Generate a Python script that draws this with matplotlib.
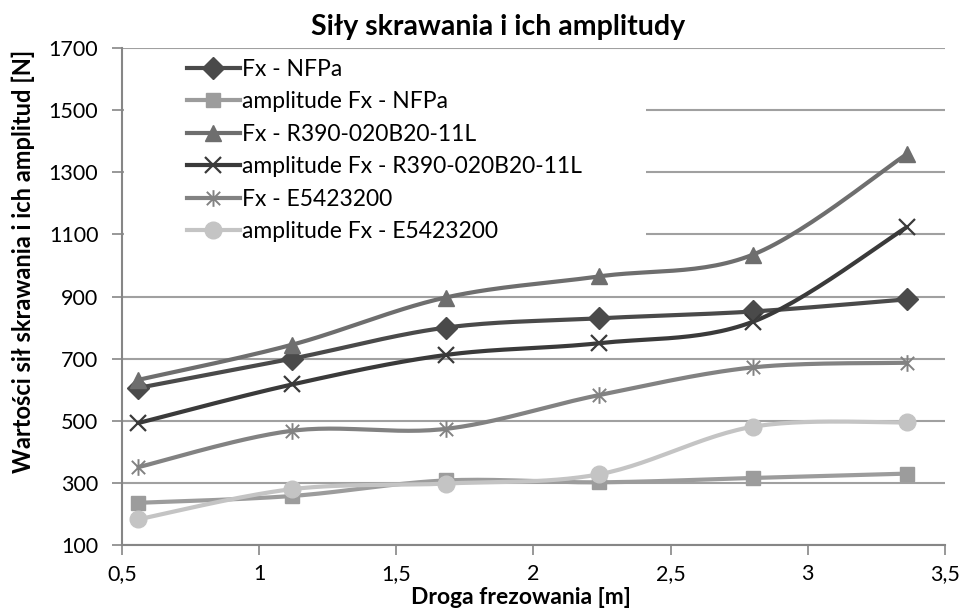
import matplotlib
matplotlib.use("Agg")
import matplotlib.pyplot as plt
import numpy as np
from matplotlib.path import Path
from matplotlib.patches import Rectangle

# Data
droga = [0.56, 1.12, 1.68, 2.24, 2.80, 3.36]
fx_nfpa = [606, 700, 800, 830, 852, 891]
amp_nfpa = [236, 258, 308, 302, 316, 330]
fx_r390 = [632, 745, 897, 965, 1035, 1358]
amp_r390 = [493, 617, 712, 750, 819, 1123]
fx_e542 = [351, 468, 474, 583, 672, 687]
amp_e542 = [183, 280, 298, 328, 481, 495]

labels = ['Fx - NFPa', 'amplitude Fx - NFPa', 'Fx - R390-020B20-11L',
          'amplitude Fx - R390-020B20-11L', 'Fx - E5423200', 'amplitude Fx - E5423200']
yticks = [100, 300, 500, 700, 900, 1100, 1300, 1500, 1700]
xticks = [0.5, 1, 1.5, 2, 2.5, 3, 3.5]
xticklabels = ['0,5', '1', '1,5', '2', '2,5', '3', '3,5']

# Excel style asterisk marker: vertical bar plus an X
star_path = Path([(0, -1), (0, 1), (-0.8, -0.8), (0.8, 0.8), (-0.8, 0.8), (0.8, -0.8)],
                 [Path.MOVETO, Path.LINETO, Path.MOVETO, Path.LINETO, Path.MOVETO, Path.LINETO])


def smooth(x, y, n=30):
    # Catmull-Rom curve through the points, like Excel's smoothed line
    x = np.asarray(x, float)
    y = np.asarray(y, float)
    px = np.concatenate([[x[0]], x, [x[-1]]])
    py = np.concatenate([[y[0]], y, [y[-1]]])
    xs, ys = [], []
    t = np.linspace(0, 1, n)
    for i in range(1, len(px) - 2):
        for p, out in ((px, xs), (py, ys)):
            p0, p1, p2, p3 = p[i - 1], p[i], p[i + 1], p[i + 2]
            c1 = p1 + (p2 - p0) / 6
            c2 = p2 - (p3 - p1) / 6
            out.extend((1 - t) ** 3 * p1 + 3 * (1 - t) ** 2 * t * c1 + 3 * (1 - t) * t ** 2 * c2 + t ** 3 * p2)
    return xs, ys


plt.rcParams['font.family'] = ['Lato', 'DejaVu Sans']

fig = plt.figure(figsize=(9.65, 6.09), dpi=100)
ax = fig.add_axes([0.1264, 0.105, 0.8528, 0.816])

series = [
    (fx_nfpa, '#4a4a4a', 'D', 11, 1),
    (amp_nfpa, '#9c9c9c', 's', 10, 1),
    (fx_r390, '#6e6e6e', '^', 12, 1),
    (amp_r390, '#3a3a3a', 'x', 12, 1.6),
    (fx_e542, '#828282', star_path, 12, 1.4),
    (amp_e542, '#c4c4c4', 'o', 12, 1),
]

for (vals, col, mk, ms, mew), lab in zip(series, labels):
    sx, sy = smooth(droga, vals)
    ax.plot(sx, sy, color=col, lw=3, solid_capstyle='round', zorder=3)
    ax.plot(droga, vals, linestyle='none', marker=mk, markersize=ms,
            color=col, markeredgewidth=mew, zorder=4)
    ax.plot([], [], color=col, lw=3, marker=mk, markersize=ms,
            markeredgewidth=mew, label=lab)

ax.set_xlim(0.5, 3.5)
ax.set_ylim(100, 1700)
ax.set_yticks(yticks)
ax.set_xticks(xticks)
ax.set_xticklabels(xticklabels)
ax.tick_params(labelsize=15.5, direction='out', length=7, color='#868686', width=1.2)
ax.tick_params(axis='x', pad=7)
ax.tick_params(axis='y', pad=10)
ax.yaxis.grid(True, color='#a0a0a0', lw=1.5, zorder=0)
ax.set_axisbelow(True)
for s in ['top', 'right']:
    ax.spines[s].set_visible(False)
for s in ['left', 'bottom']:
    ax.spines[s].set_color('#868686')
    ax.spines[s].set_linewidth(1.5)

# white legend area that hides the gridlines behind it
ax.add_patch(Rectangle((0.003, 0.60), 0.634, 0.392, transform=ax.transAxes,
                       facecolor='white', edgecolor='none', zorder=1))

ax.legend(loc='upper left', bbox_to_anchor=(0.068, 0.997), frameon=False,
          fontsize=16.5, handlelength=2.3, handletextpad=0.1,
          labelspacing=0.5, borderaxespad=0.0)

fig.text(0.54, 0.008, 'Droga frezowania [m]', ha='center', va='baseline',
         fontsize=16.5, fontweight='bold')
fig.text(0.024, 0.571, 'Wartości sił skrawania i ich amplitud [N]', ha='center',
         va='center', rotation=90, fontsize=17, fontweight='bold')
fig.text(0.516, 0.955, 'Siły skrawania i ich amplitudy', ha='center', va='center',
         fontsize=20.5, fontweight='bold')

fig.savefig('out.png', dpi=100)
